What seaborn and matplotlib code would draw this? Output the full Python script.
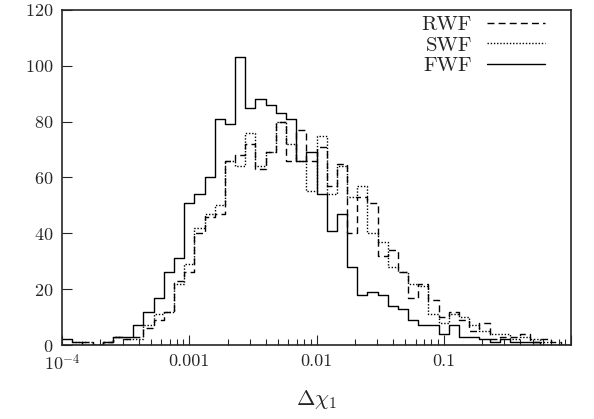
import numpy as np
import pandas as pd
import matplotlib
matplotlib.use("Agg")
import matplotlib.pyplot as plt
import seaborn as sns

# 50 log-spaced bins from 1e-4 to 1
n_bins = 50
log_range = (-4, 0)

fwf = [2, 1, 0, 0, 1, 3, 3, 7, 12, 17, 26, 31, 51, 54, 60, 81, 79, 103, 85, 88,
       86, 83, 81, 66, 69, 54, 41, 47, 28, 18, 19, 18, 14, 13, 9, 7, 7, 4, 7, 3,
       3, 2, 1, 2, 1, 1, 1, 0, 0, 0]
rwf = [0, 0, 1, 0, 1, 3, 2, 3, 6, 9, 12, 23, 26, 40, 46, 47, 66, 68, 72, 63,
       69, 80, 66, 77, 66, 71, 57, 65, 40, 53, 51, 32, 34, 26, 17, 22, 16, 10, 12, 9,
       5, 8, 2, 3, 3, 4, 1, 2, 1, 0]
swf = [0, 1, 1, 0, 1, 3, 2, 2, 7, 11, 12, 22, 29, 42, 47, 50, 66, 64, 76, 64,
       69, 80, 72, 66, 55, 75, 54, 64, 53, 57, 40, 37, 28, 26, 22, 21, 11, 8, 11, 10,
       7, 5, 4, 4, 2, 3, 2, 1, 0, 0]

series_names = ["RWF", "SWF", "FWF"]
series_values = [rwf, swf, fwf]

xtick_vals = [1e-4, 1e-3, 1e-2, 1e-1]
xtick_labels = ["$10^{-4}$", "0.001", "0.01", "0.1"]
ytick_vals = [0, 20, 40, 60, 80, 100, 120]

edges_log = np.linspace(log_range[0], log_range[1], n_bins + 1)
centers = 10 ** ((edges_log[:-1] + edges_log[1:]) / 2)

df = pd.concat([pd.DataFrame({"x": centers, "count": v, "series": name})
                for name, v in zip(series_names, series_values)], ignore_index=True)

sns.set_style("ticks")
plt.rcParams["font.family"] = "serif"
plt.rcParams["font.serif"] = ["cmr10", "DejaVu Serif"]
plt.rcParams["mathtext.fontset"] = "cm"
plt.rcParams["axes.formatter.use_mathtext"] = True

fig = plt.figure(figsize=(5.94, 4.19), dpi=100)
ax = fig.add_axes([62 / 594, 1 - 345 / 419, (571 - 62) / 594, (345 - 10) / 419])

styles = {"RWF": (0, (5, 3)), "SWF": (0, (1, 1.3)), "FWF": "-"}
for name in series_names:
    sub = df[df["series"] == name]
    sns.histplot(data=sub, x="x", weights="count", bins=n_bins, binrange=log_range,
                 log_scale=True, element="step", fill=False, color="black",
                 linewidth=1.0, linestyle=styles[name], label=name, ax=ax)

ax.set_xlim(1e-4, 1)
ax.set_ylim(0, 120)
ax.set_xticks(xtick_vals + [1.0], xtick_labels + [""])
ax.set_yticks(ytick_vals)
ax.tick_params(axis="both", which="major", direction="in", length=7, width=0.8,
               labelsize=13, pad=6)
ax.tick_params(axis="x", which="minor", direction="in", length=4, width=0.8)
ax.tick_params(axis="y", which="minor", left=False)
for s in ax.spines.values():
    s.set_visible(True)
    s.set_linewidth(1.2)
ax.set_xlabel(r"$\Delta\chi_1$", fontsize=16, labelpad=10)
ax.set_ylabel("")

ax.legend(loc="upper right", frameon=False, markerfirst=False, fontsize=15,
          handlelength=2.8, handletextpad=0.7, labelspacing=0.1,
          borderpad=0.2, borderaxespad=0.0, bbox_to_anchor=(0.957, 0.996))

fig.savefig("out.png", dpi=100)
